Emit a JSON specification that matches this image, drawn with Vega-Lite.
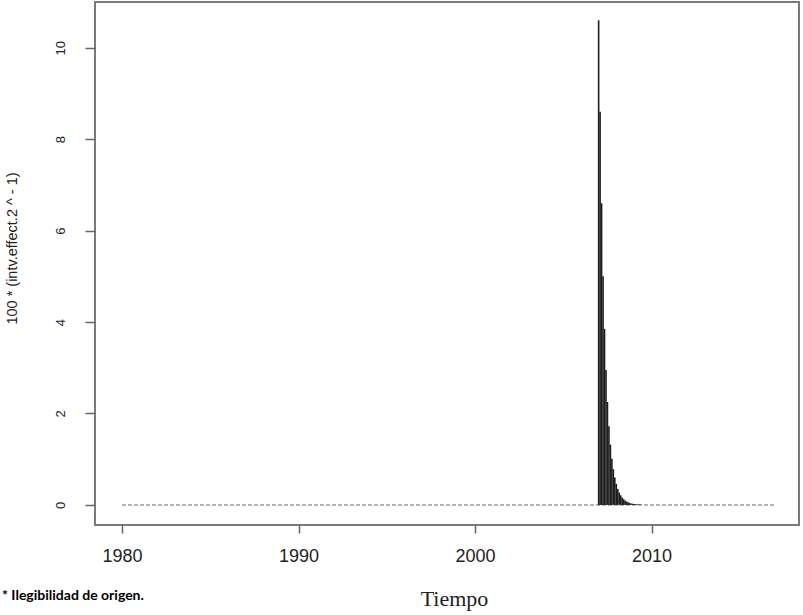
{
  "$schema": "https://vega.github.io/schema/vega-lite/v6.json",
  "width": 704,
  "height": 523,
  "autosize": {"type": "none"},
  "padding": {"left": 95, "top": 2, "right": 4, "bottom": 90},
  "background": "white",
  "config": {
    "view": {"stroke": "#7a7a7a", "strokeWidth": 2},
    "font": "Liberation Sans"
  },
  "title": {
    "text": "* Ilegibilidad de origen.",
    "orient": "bottom",
    "anchor": "start",
    "frame": "group",
    "font": "Lato",
    "fontSize": 14,
    "fontWeight": "bold",
    "color": "#000000",
    "dx": -93,
    "offset": -20
  },
  "datasets": {
    "zero": [{"start": 1980, "end": 2017, "base": 0}],
    "effect": [
      {"t": 2007.000, "v": 10.6},
      {"t": 2007.083, "v": 8.6},
      {"t": 2007.167, "v": 6.6},
      {"t": 2007.250, "v": 5.0},
      {"t": 2007.333, "v": 3.85},
      {"t": 2007.417, "v": 2.95},
      {"t": 2007.500, "v": 2.25},
      {"t": 2007.583, "v": 1.72},
      {"t": 2007.667, "v": 1.32},
      {"t": 2007.750, "v": 1.01},
      {"t": 2007.833, "v": 0.78},
      {"t": 2007.917, "v": 0.6},
      {"t": 2008.000, "v": 0.46},
      {"t": 2008.083, "v": 0.35},
      {"t": 2008.167, "v": 0.27},
      {"t": 2008.250, "v": 0.21},
      {"t": 2008.333, "v": 0.16},
      {"t": 2008.417, "v": 0.125},
      {"t": 2008.500, "v": 0.095},
      {"t": 2008.583, "v": 0.073},
      {"t": 2008.667, "v": 0.056},
      {"t": 2008.750, "v": 0.043},
      {"t": 2008.833, "v": 0.033},
      {"t": 2008.917, "v": 0.026},
      {"t": 2009.000, "v": 0.02},
      {"t": 2009.083, "v": 0.015},
      {"t": 2009.167, "v": 0.012},
      {"t": 2009.250, "v": 0.009},
      {"t": 2009.333, "v": 0.007},
      {"t": 2009.417, "v": 0.005}
    ]
  },
  "layer": [
    {
      "data": {"name": "zero"},
      "mark": {"type": "rule", "stroke": "#9a9a9a", "strokeWidth": 1.5, "strokeDash": [4, 2]},
      "encoding": {
        "x": {"field": "start", "type": "quantitative"},
        "x2": {"field": "end"},
        "y": {"field": "base", "type": "quantitative"}
      }
    },
    {
      "data": {"name": "effect"},
      "mark": {"type": "rule", "stroke": "#1e1e1e", "strokeWidth": 1.6},
      "encoding": {
        "x": {
          "field": "t",
          "type": "quantitative",
          "scale": {"domain": [1978.47, 2018.35], "nice": false, "zero": false},
          "axis": {
            "values": [1980, 1990, 2000, 2010],
            "format": "d",
            "domain": false,
            "grid": false,
            "tickSize": 8,
            "tickColor": "#666666",
            "tickWidth": 1.5,
            "labelFont": "Liberation Sans",
            "labelFontSize": 18,
            "labelColor": "#222222",
            "labelPadding": 14,
            "labelBaseline": "top",
            "title": "Tiempo",
            "titleFont": "Liberation Serif",
            "titleFontSize": 22,
            "titleFontWeight": "normal",
            "titleColor": "#222222",
            "titleBaseline": "alphabetic",
            "titleX": 359,
            "titleY": 80
          }
        },
        "y": {
          "field": "v",
          "type": "quantitative",
          "scale": {"domain": [-0.44, 11.0], "nice": false, "zero": false},
          "axis": {
            "values": [0, 2, 4, 6, 8, 10],
            "domain": false,
            "grid": false,
            "tickSize": 10,
            "tickColor": "#666666",
            "tickWidth": 1.5,
            "labelAngle": -90,
            "labelAlign": "center",
            "labelBaseline": "middle",
            "labelPadding": 25,
            "labelFont": "Liberation Sans",
            "labelFontSize": 13,
            "labelColor": "#222222",
            "title": "100 * (intv.effect.2 ^ - 1)",
            "titleFont": "Liberation Sans",
            "titleFontSize": 14.5,
            "titleFontWeight": "normal",
            "titleColor": "#222222",
            "titleAngle": -90,
            "titleAlign": "center",
            "titleBaseline": "middle",
            "titleX": -83,
            "titleY": 246
          }
        },
        "y2": {"datum": 0}
      }
    }
  ]
}
